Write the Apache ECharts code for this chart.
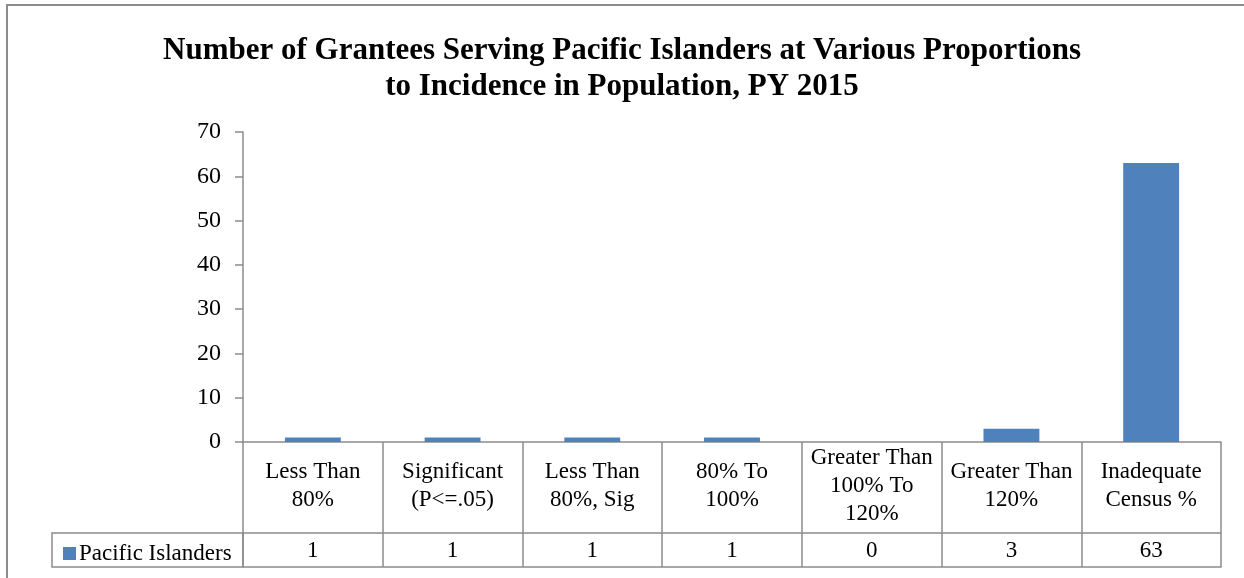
<!DOCTYPE html>
<html>
<head>
<meta charset="utf-8">
<script src="https://cdn.jsdelivr.net/npm/echarts@6/dist/echarts.min.js"></script>
<style>
    html, body { margin: 0; padding: 0; background: #fff; }
    #chart { width: 1244px; height: 578px; }
</style>
</head>
<body>
<div id="chart"></div>
<script>
// data
var categories = ['Less Than\n80%', 'Significant\n(P<=.05)', 'Less Than\n80%, Sig', '80% To\n100%',
    'Greater Than\n100% To\n120%', 'Greater Than\n120%', 'Inadequate\nCensus %'];
var seriesName = 'Pacific Islanders';
var values = [1, 1, 1, 1, 0, 3, 63];
var yTicks = [0, 10, 20, 30, 40, 50, 60, 70];

var lineColor = '#8c8c8c';
var serif = '"Liberation Serif", "Times New Roman", serif';

var myChart = echarts.init(document.getElementById('chart'));

var option = {
    animation: false,
    backgroundColor: '#fff',
    color: ['#4F81BD'],
    title: {
        text: 'Number of Grantees Serving Pacific Islanders at Various Proportions\nto Incidence in Population, PY 2015',
        left: 'center',
        top: 28,
        textStyle: {
            fontFamily: serif,
            fontSize: 31,
            fontWeight: 'bold',
            color: '#000',
            lineHeight: 36
        }
    },
    legend: {
        data: [seriesName],
        left: 58,
        top: 537,
        icon: 'rect',
        itemWidth: 13,
        itemHeight: 13,
        itemGap: 4,
        selectedMode: false,
        textStyle: {
            fontFamily: serif,
            fontSize: 23,
            color: '#000',
            padding: [0, 0, 0, -2]
        }
    },
    grid: {
        left: 243,
        right: 23,
        top: 132,
        bottom: 136,
        containLabel: false
    },
    xAxis: [
        {
            // category row of the data table
            type: 'category',
            data: categories,
            position: 'bottom',
            boundaryGap: true,
            axisLine: { show: true, lineStyle: { color: lineColor, width: 1.5 } },
            axisTick: { show: true, interval: 0, length: 125, lineStyle: { color: lineColor, width: 1.5 } },
            axisLabel: {
                interval: 0,
                margin: 44,
                verticalAlign: 'middle',
                fontFamily: serif,
                fontSize: 23,
                lineHeight: 28,
                color: '#000'
            },
            splitLine: { show: false }
        },
        {
            // value row of the data table
            type: 'category',
            data: values.map(function (v) { return String(v); }),
            position: 'bottom',
            offset: 91,
            boundaryGap: true,
            axisLine: { show: true, lineStyle: { color: lineColor, width: 1.5 } },
            axisTick: { show: false },
            axisLabel: {
                interval: 0,
                margin: 18,
                verticalAlign: 'middle',
                fontFamily: serif,
                fontSize: 23,
                color: '#000'
            },
            splitLine: { show: false }
        },
        {
            // bottom edge of the table
            type: 'category',
            data: categories,
            position: 'bottom',
            offset: 125,
            axisLine: { show: true, lineStyle: { color: lineColor, width: 1.5 } },
            axisTick: { show: false },
            axisLabel: { show: false },
            splitLine: { show: false }
        }
    ],
    yAxis: {
        type: 'value',
        min: yTicks[0],
        max: yTicks[yTicks.length - 1],
        interval: 10,
        axisLine: { show: true, lineStyle: { color: lineColor, width: 1.5 } },
        axisTick: { show: true, length: 8, lineStyle: { color: lineColor, width: 1.5 } },
        axisLabel: {
            margin: 22,
            fontFamily: serif,
            fontSize: 24,
            color: '#000'
        },
        splitLine: { show: false }
    },
    series: [
        {
            name: seriesName,
            type: 'bar',
            data: values,
            barWidth: '40%',
            itemStyle: { color: '#4F81BD' }
        }
    ],
    graphic: [
        {
            // outer chart border (top and left visible)
            type: 'rect',
            shape: { x: 7, y: 5, width: 1400, height: 700 },
            style: { fill: 'none', stroke: '#8c8c8c', lineWidth: 2 },
            silent: true
        },
        {
            // legend cell of the data table
            type: 'rect',
            shape: { x: 52, y: 533, width: 191, height: 34 },
            style: { fill: 'none', stroke: lineColor, lineWidth: 1.5 },
            silent: true
        }
    ]
};

myChart.setOption(option);
</script>
</body>
</html>
